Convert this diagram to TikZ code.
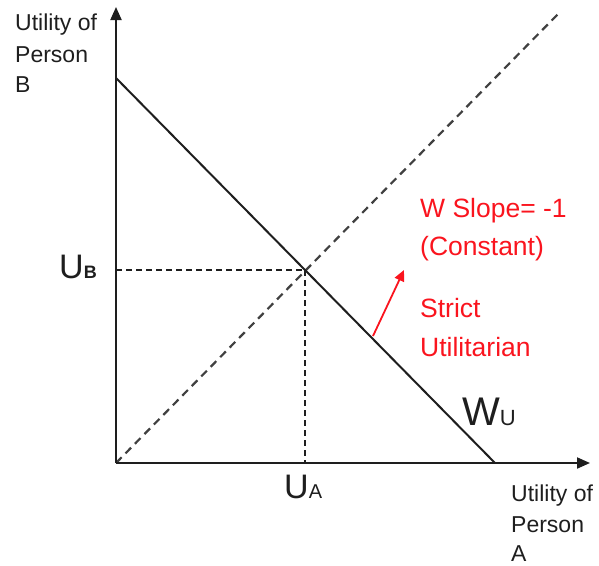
\documentclass[tikz,border=0pt]{standalone}
\usepackage{fontspec}
\setmainfont{Liberation Sans}
\usetikzlibrary{arrows.meta}
\definecolor{wred}{RGB}{250,20,30}
\definecolor{ink}{RGB}{30,30,30}
\begin{document}
\begin{tikzpicture}[x=1pt,y=-1pt,
  axis/.style={draw=ink,line width=2pt,-{Triangle[length=13pt,width=11pt]}},
  wline/.style={draw=ink,line width=2pt},
  guide/.style={draw=ink,line width=2pt,dash pattern=on 6pt off 4pt},
  diag/.style={draw=ink!85,line width=2.2pt,dash pattern=on 8pt off 5.5pt},
  axlbl/.style={anchor=base west,inner sep=0pt,text=ink,font=\fontsize{23}{24}\selectfont},
  redlbl/.style={anchor=base west,inner sep=0pt,text=wred,font=\fontsize{26.5}{28}\selectfont},
  biglbl/.style={anchor=base west,inner sep=0pt,text=ink,font=\fontsize{34}{34}\selectfont}]
\useasboundingbox (0,0) rectangle (599,565);
\coordinate (O) at (116,463);
\coordinate (Ytop) at (116,7);
\coordinate (Xend) at (590,463);
\coordinate (Wtop) at (116,78);
\coordinate (Wbot) at (495,463);
\coordinate (E) at (305,270);
\coordinate (Dend) at (560,12);
\coordinate (UBp) at (116,270);
\coordinate (UAp) at (305,463);
\coordinate (Rs) at (373,336);
\coordinate (Re) at (404,270);
% dashed guides
\draw[diag] (O) -- (Dend);
\draw[guide] (UBp) -- (E);
\draw[guide] (E) -- (UAp);
% axes
\draw[axis] (O) -- (Ytop);
\draw[axis] (O) -- (Xend);
% welfare line
\draw[wline] (Wtop) -- (Wbot);
% red arrow
\draw[wred,line width=1.8pt,-{Triangle[length=11pt,width=10pt]}] (Rs) -- (Re);
% axis labels
\node[axlbl] (yl1) at (15,30) {Utility of};
\node[axlbl] (yl2) at (15,62) {Person};
\node[axlbl] (yl3) at (15,92) {B};
\node[axlbl] (xl1) at (511,501) {Utility of};
\node[axlbl] (xl2) at (511,532) {Person};
\node[axlbl] (xl3) at (511,561) {A};
% U labels
\node[biglbl] (UB) at (59,278) {U{\fontsize{18}{20}\selectfont\bfseries B}};
\node[biglbl] (UA) at (284,498) {U{\fontsize{20}{20}\selectfont A}};
\node[biglbl,font=\fontsize{40}{40}\selectfont] (WU) at (462,425) {W{\fontsize{22}{22}\selectfont U}};
% red labels
\node[redlbl] (r1) at (420,217) {W Slope= -1};
\node[redlbl] (r2) at (420,255) {(Constant)};
\node[redlbl] (r3) at (420,317) {Strict};
\node[redlbl] (r4) at (420,356) {Utilitarian};
\end{tikzpicture}
\end{document}
